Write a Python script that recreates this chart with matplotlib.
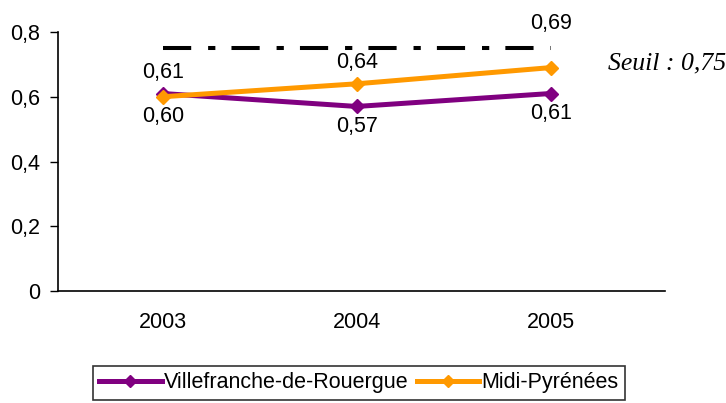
import matplotlib
matplotlib.use("Agg")
import matplotlib.pyplot as plt

years = ["2003", "2004", "2005"]
villefranche = [0.61, 0.57, 0.61]
midi_pyrenees = [0.60, 0.64, 0.69]
seuil = 0.75
yticks = [0, 0.2, 0.4, 0.6, 0.8]

plt.rcParams['font.family'] = ['Liberation Sans', 'DejaVu Sans']
FS = 15.5

fig = plt.figure(figsize=(7.26, 4.03), dpi=100)
ax = fig.add_axes([58/726, 1-291/403, (665-58)/726, (291-32)/403])

x = list(range(len(years)))
purple = "#800080"
orange = "#FF9900"

ax.plot(x, villefranche, color=purple, lw=3.6, marker="D", ms=7.5, label="Villefranche-de-Rouergue", zorder=3)
ax.plot(x, midi_pyrenees, color=orange, lw=3.6, marker="D", ms=7.5, label="Midi-Pyrénées", zorder=4)
ax.plot([x[0], x[-1]], [seuil, seuil], color="black", lw=2.9, linestyle=(0, (7, 4.2, 1.8, 4)), zorder=2)

def fmt(v):
    return f"{v:.2f}".replace(".", ",")

for i in x:
    for series, other in ((villefranche, midi_pyrenees), (midi_pyrenees, villefranche)):
        v = series[i]
        above = v >= other[i]
        if above:
            off = 44 if v > seuil - 0.1 else 21
        else:
            off = -20
        ax.annotate(fmt(v), (i, v), xytext=(0, off), textcoords="offset pixels",
                    ha="center", va="center", fontsize=FS)

fig.text(608/726, 1-63/403, "Seuil : 0,75", fontsize=18.5, style="italic",
         family=["Liberation Serif", "DejaVu Serif"], ha="left", va="center")

ax.set_xlim(-0.54, 2.59)
ax.set_ylim(0, 0.8)
ax.set_yticks(yticks)
ax.set_yticklabels([("0" if t == 0 else f"{t:.1f}".replace(".", ",")) for t in yticks], fontsize=FS)
ax.set_xticks(x)
ax.set_xticklabels(years, fontsize=FS)
ax.tick_params(axis="x", length=0, pad=15)
ax.tick_params(axis="y", length=6, width=1, direction="out", pad=7)
ax.spines["top"].set_visible(False)
ax.spines["right"].set_visible(False)
for s in ("left", "bottom"):
    ax.spines[s].set_linewidth(1.2)

leg = fig.legend(loc="upper center", bbox_to_anchor=(359/726, 1-366/403), ncol=2,
                 fontsize=FS, frameon=True, fancybox=False, edgecolor="black",
                 handlelength=2.9, handletextpad=0.1, columnspacing=0.4,
                 borderpad=0.3, borderaxespad=0, markerscale=0.8)
leg.get_frame().set_linewidth(1.2)

fig.savefig("out.png", dpi=100)
